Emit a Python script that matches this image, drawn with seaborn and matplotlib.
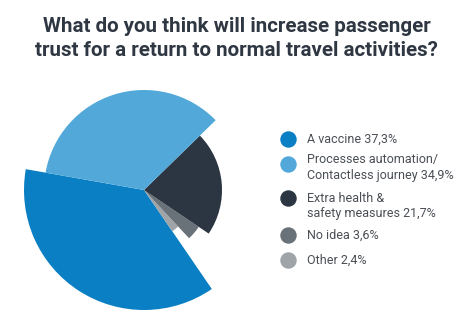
import numpy as np
import matplotlib
matplotlib.use("Agg")
import matplotlib.pyplot as plt
import seaborn as sns

# ---- data ----
categories = ["A vaccine", "Processes automation/\nContactless journey", "Extra health &\nsafety measures", "No idea", "Other"]
shares = [37.3, 34.9, 21.7, 3.6, 2.4]
share_labels = ["37,3%", "34,9%", "21,7%", "3,6%", "2,4%"]
radius_scores = [120, 100, 78, 66, 50]
colors = ["#0a7fc4", "#52a9d9", "#2b3642", "#6a7279", "#9fa4a9"]
draw_order = [0, 4, 3, 2, 1]  # counter-clockwise from start angle

sns.set_theme(style="white")
plt.rcParams['font.family'] = ['Roboto', 'DejaVu Sans']

W, H = 463, 324
fig = plt.figure(figsize=(W / 100, H / 100), dpi=100)
fig.patch.set_facecolor("white")

# polar axes centred at (144,190) px, rmax 122 px
cx, cy, R = 144, 190, 122
ax = fig.add_axes([(cx - R) / W, (H - cy - R) / H, 2 * R / W, 2 * R / H], projection="polar")
ax.set_facecolor("none")

total = sum(shares)
start = np.deg2rad(170)
theta = start
for i in draw_order:
    width = shares[i] / total * 2 * np.pi
    ax.bar(theta, radius_scores[i], width=width, bottom=0, align="edge",
           color=colors[i], linewidth=0)
    theta += width
ax.set_ylim(0, R)
ax.set_axis_off()

# title
fig.text(237 / W, 1 - 26 / H, "What do you think will increase passenger", ha="center", va="center",
         fontsize=14.8, fontweight="bold", color="#2e3742")
fig.text(236 / W, 1 - 51 / H, "trust for a return to normal travel activities?", ha="center", va="center",
         fontsize=14.8, fontweight="bold", color="#2e3742")

# legend
lax = fig.add_axes([0, 0, 1, 1])
lax.set_xlim(0, W)
lax.set_ylim(H, 0)
lax.set_axis_off()
circle_y = [139, 164, 198, 235, 260]
text_y = [139, 160, 198, 235, 260]
for i, cat in enumerate(categories):
    lax.scatter([288], [circle_y[i]], s=140, color=colors[i], linewidths=0)
    lines = cat.split("\n")
    lines[-1] = lines[-1] + " " + share_labels[i]
    for k, line in enumerate(lines):
        lax.text(307, text_y[i] + 15 * k, line, ha="left", va="center", fontsize=9, color="#4a4f55")

fig.savefig("out.png", dpi=100, facecolor="white")
